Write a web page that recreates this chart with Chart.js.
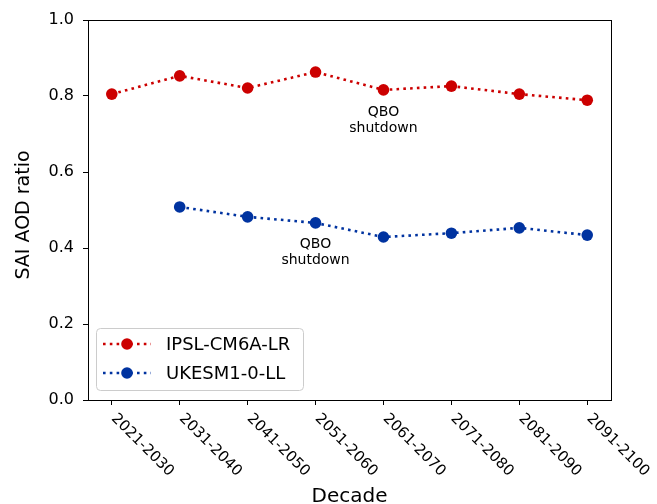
<!DOCTYPE html>
<html lang="en">
<head>
    <meta charset="UTF-8">
    <title>SAI AOD ratio by decade</title>
    <script src="https://cdn.jsdelivr.net/npm/chart.js"></script>
    <style>
        html, body { margin: 0; padding: 0; background: #fff; }
        #wrap { width: 657px; height: 504px; }
    </style>
</head>
<body>
    <div id="wrap"><canvas id="aodChart" width="657" height="504"></canvas></div>

    <script>
        // data
        const decades = ['2021-2030', '2031-2040', '2041-2050', '2051-2060',
                         '2061-2070', '2071-2080', '2081-2090', '2091-2100'];
        const ipslValues = [0.805, 0.853, 0.821, 0.863, 0.816, 0.826, 0.805, 0.789];
        const ukesmValues = [null, 0.508, 0.482, 0.466, 0.429, 0.439, 0.453, 0.434];
        const seriesNames = ['IPSL-CM6A-LR', 'UKESM1-0-LL'];
        const yTicks = [0, 0.2, 0.4, 0.6, 0.8, 1.0];
        const noteText = ['QBO', 'shutdown'];
        const noteIndex = [4, 3];
        const noteValue = [0.758, 0.41];

        const RED = '#cc0000';
        const BLUE = '#0033a0';
        const FONT = "'DejaVu Sans', sans-serif";

        function toPoints(values) {
            return values.map((v, i) => ({ x: i, y: v }));
        }

        // matplotlib-like extras: box, rotated tick labels, axis titles, notes, legend
        const extrasPlugin = {
            id: 'extras',
            afterDraw(chart) {
                const ctx = chart.ctx;
                const area = chart.chartArea;
                const xs = chart.scales.x;
                const ys = chart.scales.y;

                ctx.save();
                // frame
                ctx.strokeStyle = '#000';
                ctx.lineWidth = 1;
                ctx.strokeRect(Math.round(area.left) + 0.5, Math.round(area.top) + 0.5,
                    Math.round(area.right - area.left), Math.round(area.bottom - area.top));

                // rotated decade labels
                ctx.fillStyle = '#000';
                ctx.font = '15px ' + FONT;
                ctx.textAlign = 'left';
                ctx.textBaseline = 'top';
                decades.forEach((d, i) => {
                    const px = xs.getPixelForValue(i);
                    ctx.save();
                    ctx.translate(px + 7, area.bottom + 11);
                    ctx.rotate(Math.PI / 4);
                    ctx.fillText(d, 0, 0);
                    ctx.restore();
                });

                // axis titles
                ctx.font = '20px ' + FONT;
                ctx.textAlign = 'center';
                ctx.textBaseline = 'alphabetic';
                ctx.fillText('Decade', (area.left + area.right) / 2, 502);
                ctx.font = '19px ' + FONT;
                ctx.save();
                ctx.translate(29, (area.top + area.bottom) / 2 + 5);
                ctx.rotate(-Math.PI / 2);
                ctx.fillText('SAI AOD ratio', 0, 0);
                ctx.restore();

                // notes
                ctx.font = '14px ' + FONT;
                ctx.textBaseline = 'middle';
                noteIndex.forEach((idx, k) => {
                    const px = xs.getPixelForValue(idx);
                    const py = ys.getPixelForValue(noteValue[k]);
                    noteText.forEach((t, j) => ctx.fillText(t, px, py + j * 16));
                });

                // legend
                const lx = 96, ly = 328, lw = 207, lh = 62;
                ctx.beginPath();
                ctx.roundRect(lx + 0.5, ly + 0.5, lw, lh, 4);
                ctx.fillStyle = 'rgba(255,255,255,0.8)';
                ctx.fill();
                ctx.strokeStyle = '#cccccc';
                ctx.lineWidth = 1;
                ctx.stroke();
                ctx.font = '18px ' + FONT;
                ctx.textAlign = 'left';
                ctx.textBaseline = 'middle';
                chart.data.datasets.forEach((ds, i) => {
                    const ry = ly + 16 + i * 29;
                    ctx.strokeStyle = ds.borderColor;
                    ctx.lineWidth = ds.borderWidth;
                    ctx.setLineDash(ds.borderDash);
                    ctx.beginPath();
                    ctx.moveTo(103, ry);
                    ctx.lineTo(151, ry);
                    ctx.stroke();
                    ctx.setLineDash([]);
                    ctx.fillStyle = ds.borderColor;
                    ctx.beginPath();
                    ctx.arc(127, ry, ds.pointRadius, 0, Math.PI * 2);
                    ctx.fill();
                    ctx.fillStyle = '#000';
                    ctx.fillText(ds.label, 166, ry + 1);
                });
                ctx.restore();
            }
        };

        const seriesValues = [ipslValues, ukesmValues];
        const seriesColors = [RED, BLUE];

        new Chart(document.getElementById('aodChart'), {
            type: 'line',
            data: {
                datasets: seriesNames.map((name, i) => ({
                    label: name,
                    data: toPoints(seriesValues[i]),
                    borderColor: seriesColors[i],
                    backgroundColor: seriesColors[i],
                    pointBackgroundColor: seriesColors[i],
                    pointBorderWidth: 0,
                    pointRadius: 5.8,
                    borderWidth: 2.6,
                    borderDash: [2.6, 4.2],
                    tension: 0,
                    fill: false
                }))
            },
            options: {
                responsive: false,
                animation: false,
                layout: { padding: { left: 0, top: 20, right: 46, bottom: 0 } },
                plugins: {
                    legend: { display: false },
                    tooltip: { enabled: false }
                },
                scales: {
                    x: {
                        type: 'linear',
                        min: -0.35,
                        max: 7.35,
                        afterBuildTicks: axis => { axis.ticks = decades.map((_, i) => ({ value: i })); },
                        afterFit: axis => { axis.height = 104; },
                        ticks: { display: false },
                        grid: { drawOnChartArea: false, drawTicks: true, tickLength: 5, color: '#000', tickColor: '#000' },
                        border: { display: false }
                    },
                    y: {
                        min: 0,
                        max: 1,
                        afterBuildTicks: axis => { axis.ticks = yTicks.map(v => ({ value: v })); },
                        afterFit: axis => { axis.width = 88; },
                        ticks: {
                            color: '#000',
                            font: { family: FONT, size: 16 },
                            padding: 9,
                            callback: v => Number(v).toFixed(1)
                        },
                        grid: { drawOnChartArea: false, drawTicks: true, tickLength: 5, color: '#000', tickColor: '#000' },
                        border: { display: false }
                    }
                }
            },
            plugins: [extrasPlugin]
        });
    </script>
</body>
</html>
